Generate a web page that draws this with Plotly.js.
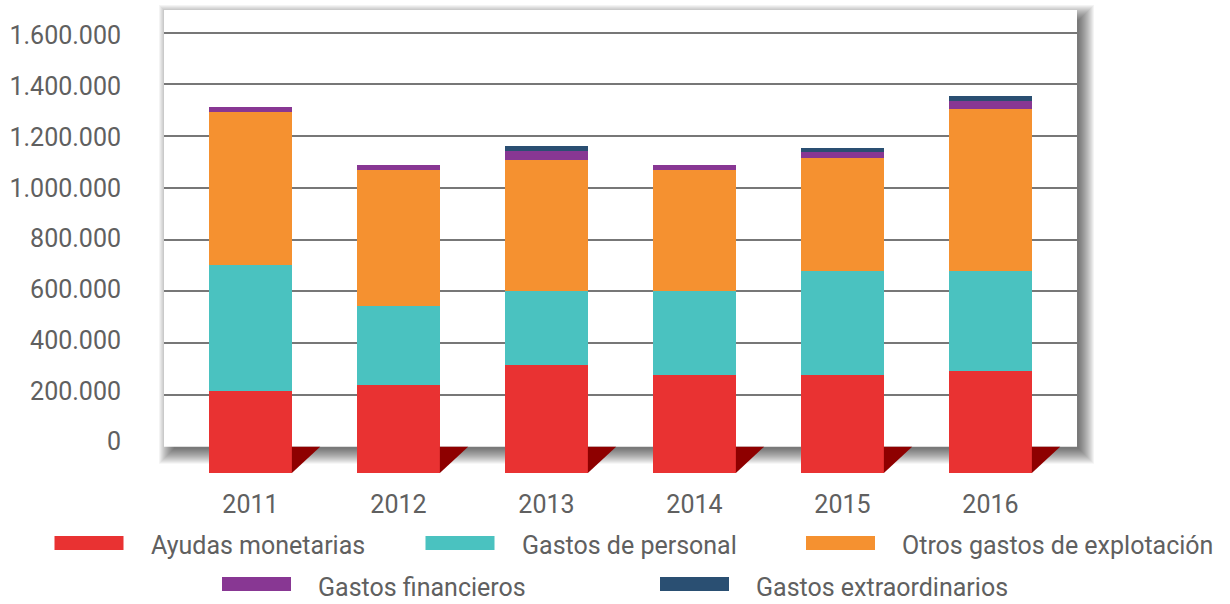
<!DOCTYPE html>
<html>
<head>
<meta charset="utf-8">
<script src="https://cdn.plot.ly/plotly-3.0.1.min.js"></script>
<style>html,body{margin:0;padding:0;background:#fff;}#chart{width:1230px;height:604px;}</style>
</head>
<body>
<div id="chart"></div>
<script>
// ---------- DATA ----------
const categories = ['2011', '2012', '2013', '2014', '2015', '2016'];
const seriesNames = ['Ayudas monetarias', 'Gastos de personal', 'Otros gastos de explotación', 'Gastos financieros', 'Gastos extraordinarios'];
const ayudasMonetarias = [318000, 339000, 419000, 377000, 377000, 393000];
const gastosPersonal = [487000, 305000, 283000, 325000, 405000, 389000];
const otrosGastos = [591000, 528000, 506000, 470000, 437000, 626000];
const gastosFinancieros = [19000, 19000, 37000, 19000, 23000, 31000];
const gastosExtraordinarios = [0, 0, 19000, 0, 15000, 19000];
const yTickVals = [0, 200000, 400000, 600000, 800000, 1000000, 1200000, 1400000, 1600000];
const yTickText = ['0', '200.000', '400.000', '600.000', '800.000', '1.000.000', '1.200.000', '1.400.000', '1.600.000'];

// ---------- STYLE / LAYOUT ----------
const seriesValues = [ayudasMonetarias, gastosPersonal, otrosGastos, gastosFinancieros, gastosExtraordinarios];
const colors = ['#E93232', '#4AC2C0', '#F59130', '#883793', '#2A4F72'];
const textColor = '#606060';
const FONT = 'Roboto, "Open Sans", sans-serif';
const FW = 400;
const W = 1230, H = 604;
const L = 164, R = 1077, T = 10, B = 473;           // plot area in px
const wallBottom = 446.7;                            // back wall floor in px
const ppu = 51.75 / 200000;                          // px per unit (bars/grid)
const lblZero = 441.5, lblTop = 35.5;                // label axis placement
const lppu = (lblZero - lblTop) / 1600000;
const xRange = [-0.584, 5.585];
const bargap = 0.44;
const xUnitPx = (R - L) / (xRange[1] - xRange[0]);
const depthPx = 28.3;

const px2xp = px => (px - L) / (R - L);
const px2yp = py => (B - py) / (B - T);

const traces = seriesValues.map((vals, i) => ({
  type: 'bar', name: seriesNames[i], x: categories, y: vals,
  marker: {color: colors[i], line: {width: 0}},
  xaxis: 'x', yaxis: 'y', hoverinfo: 'x+y+name', showlegend: false
}));
// invisible traces to activate the grid & label axes
traces.push({type: 'scatter', x: [categories[0]], y: [0], yaxis: 'y2', mode: 'markers', marker: {opacity: 0}, hoverinfo: 'skip', showlegend: false});
traces.push({type: 'scatter', x: [categories[0]], y: [0], yaxis: 'y3', mode: 'markers', marker: {opacity: 0}, hoverinfo: 'skip', showlegend: false});

const shapes = [];
// wall shadow (layered translucent rects)
const dx = 6, dy = 6, N = 16;
for (let k = 0; k < N; k++) {
  const e = k - 4;
  shapes.push({type: 'rect', xref: 'paper', yref: 'paper', layer: 'below',
    x0: px2xp(L + dx - e), x1: px2xp(R + dx + e), y0: px2yp(wallBottom + dy + e), y1: px2yp(T + dy - e),
    fillcolor: 'rgba(0,0,0,0.042)', line: {width: 0}});
}
// white back wall
shapes.push({type: 'rect', xref: 'paper', yref: 'paper', layer: 'below',
  x0: 0, x1: 1, y0: px2yp(wallBottom), y1: 1, fillcolor: '#ffffff', line: {width: 0}});
// dark floor triangles next to each bar
const wallVal = (B - wallBottom) / ppu;
const hb = (1 - bargap) / 2;
categories.forEach((c, i) => {
  const x0 = i + hb, x1 = x0 + depthPx / xUnitPx;
  shapes.push({type: 'path', xref: 'x', yref: 'y', layer: 'above',
    path: `M${x0},0 L${x0},${wallVal} L${x1},${wallVal} Z`,
    fillcolor: '#8E0000', line: {width: 0}});
});

// manual legend
const legendPos = [[54.5, 543, 545], [425.5, 543, 545], [806, 543, 545], [222, 584, 587], [660, 584, 587]];
const swW = 69, swH = 14, swGap = 25;
const annotations = [];
seriesNames.forEach((n, i) => {
  const [lx, sy, ty] = legendPos[i];
  shapes.push({type: 'rect', xref: 'paper', yref: 'paper', layer: 'above',
    x0: px2xp(lx), x1: px2xp(lx + swW), y0: px2yp(sy + swH / 2), y1: px2yp(sy - swH / 2),
    fillcolor: colors[i], line: {width: 0}});
  annotations.push({xref: 'paper', yref: 'paper', x: px2xp(lx + swW + swGap), y: px2yp(ty),
    xanchor: 'left', yanchor: 'middle', showarrow: false, text: n,
    font: {family: FONT, size: 25, color: textColor, weight: FW}});
});

const layout = {
  width: W, height: H,
  margin: {l: L, r: W - R, t: T, b: H - B, pad: 0},
  paper_bgcolor: '#ffffff', plot_bgcolor: 'rgba(0,0,0,0)',
  barmode: 'stack', bargap: bargap,
  showlegend: false,
  font: {family: FONT, color: textColor},
  xaxis: {type: 'category', range: xRange, showgrid: false, zeroline: false, showline: false,
    ticks: '', ticklabelstandoff: 14, tickfont: {family: FONT, size: 25, color: textColor, weight: FW}},
  yaxis: {range: [0, (B - T) / ppu], showgrid: false, zeroline: false, showline: false,
    showticklabels: false, ticks: ''},
  yaxis2: {overlaying: 'y', range: [-(B - wallBottom) / ppu, (wallBottom - T) / ppu],
    tickmode: 'array', tickvals: yTickVals.slice(1), showgrid: true, gridcolor: '#777777', gridwidth: 2,
    zeroline: false, showline: false, showticklabels: false, ticks: ''},
  yaxis3: {overlaying: 'y', side: 'left', range: [-(B - lblZero) / lppu, (lblZero - T) / lppu],
    tickmode: 'array', tickvals: yTickVals, ticktext: yTickText, showgrid: false, zeroline: false,
    showline: false, ticks: '', ticklabelstandoff: 42, tickfont: {family: FONT, size: 25, color: textColor, weight: FW}},
  shapes: shapes,
  annotations: annotations
};

Plotly.newPlot('chart', traces, layout, {displayModeBar: false, staticPlot: true});
</script>
</body>
</html>
